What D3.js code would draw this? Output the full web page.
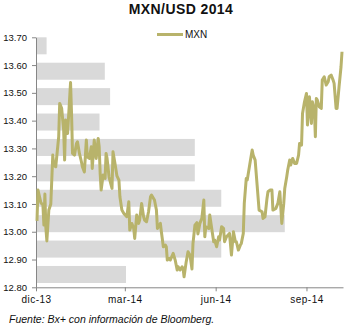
<!DOCTYPE html>
<html>
<head>
<meta charset="utf-8">
<script src="https://cdn.jsdelivr.net/npm/d3@7"></script>
<style>
  body { margin: 0; background: #fff; }
  svg { font-family: "Liberation Sans", Arial, sans-serif; }
</style>
</head>
<body>
<div id="chart"></div>
<script>
// MXN/USD 2014 - tipo de cambio diario + barras de frecuencia por rango

const title = "MXN/USD 2014";
const seriesName = "MXN";
const source = "Fuente: Bx+ con información de Bloomberg.";

// tick labels
const yTicks = [12.8, 12.9, 13.0, 13.1, 13.2, 13.3, 13.4, 13.5, 13.6, 13.7];
const xTickDates = ["2013-12-01", "2014-03-01", "2014-06-01", "2014-09-01"];
const xTickLabels = ["dic-13", "mar-14", "jun-14", "sep-14"];

// barras de fondo (de arriba hacia abajo)
const bins = ["13.61-13.70", "13.52-13.61", "13.43-13.52", "13.34-13.43", "13.25-13.34",
              "13.16-13.25", "13.07-13.16", "12.98-13.07", "12.89-12.98", "12.80-12.89"];
const binCounts = [2, 13, 14, 12, 30, 30, 35, 47, 35, 17];

// serie MXN
const dates = [
  "2013-12-02","2013-12-03","2013-12-06","2013-12-08","2013-12-09","2013-12-10","2013-12-11","2013-12-12","2013-12-14","2013-12-16",
  "2013-12-18","2013-12-19","2013-12-21","2013-12-24","2013-12-25","2013-12-27","2013-12-29","2013-12-30","2013-12-31","2014-01-01",
  "2014-01-02","2014-01-03","2014-01-05","2014-01-06","2014-01-07","2014-01-09","2014-01-11","2014-01-12","2014-01-14","2014-01-16",
  "2014-01-17","2014-01-19","2014-01-21","2014-01-22","2014-01-24","2014-01-26","2014-01-27","2014-01-29","2014-01-31","2014-02-02",
  "2014-02-03","2014-02-04","2014-02-05","2014-02-07","2014-02-09","2014-02-10","2014-02-11","2014-02-13","2014-02-16","2014-02-17",
  "2014-02-19","2014-02-21","2014-02-23","2014-02-24","2014-02-26","2014-02-28","2014-03-03","2014-03-05","2014-03-06","2014-03-08",
  "2014-03-10","2014-03-11","2014-03-13","2014-03-15","2014-03-16","2014-03-18","2014-03-20","2014-03-21","2014-03-23","2014-03-25",
  "2014-03-27","2014-03-28","2014-03-31","2014-04-02","2014-04-03","2014-04-06","2014-04-07","2014-04-09","2014-04-11","2014-04-12",
  "2014-04-13","2014-04-15","2014-04-16","2014-04-19","2014-04-21","2014-04-23","2014-04-24","2014-04-26","2014-04-28","2014-04-29",
  "2014-04-30","2014-05-02","2014-05-04","2014-05-06","2014-05-08","2014-05-09","2014-05-11","2014-05-13","2014-05-14","2014-05-16",
  "2014-05-18","2014-05-20","2014-05-21","2014-05-22","2014-05-25","2014-05-26","2014-05-28","2014-05-30","2014-05-31","2014-06-02",
  "2014-06-04","2014-06-05","2014-06-07","2014-06-09","2014-06-10","2014-06-12","2014-06-15","2014-06-17","2014-06-19","2014-06-21",
  "2014-06-22","2014-06-24","2014-06-26","2014-06-27","2014-06-29","2014-06-30","2014-07-02","2014-07-03","2014-07-06","2014-07-08",
  "2014-07-09","2014-07-11","2014-07-13","2014-07-15","2014-07-18","2014-07-19","2014-07-21","2014-07-23","2014-07-24","2014-07-26",
  "2014-07-28","2014-07-29","2014-08-01","2014-08-03","2014-08-05","2014-08-07","2014-08-09","2014-08-10","2014-08-12","2014-08-13",
  "2014-08-15","2014-08-16","2014-08-18","2014-08-20","2014-08-22","2014-08-24","2014-08-25","2014-08-27","2014-08-28","2014-08-30",
  "2014-09-01","2014-09-02","2014-09-04","2014-09-06","2014-09-07","2014-09-09","2014-09-10","2014-09-11","2014-09-12","2014-09-14",
  "2014-09-16","2014-09-17","2014-09-19","2014-09-21","2014-09-23","2014-09-24","2014-09-26","2014-09-28","2014-09-29","2014-10-01",
  "2014-10-02","2014-10-04","2014-10-06","2014-10-07"
];
const mxn = [
  13.039,13.150,13.104,13.096,13.024,13.136,13.014,12.967,13.078,13.100,
  13.276,13.240,13.234,13.342,13.462,13.444,13.366,13.258,13.402,13.390,
  13.354,13.414,13.537,13.426,13.282,13.276,13.318,13.324,13.282,13.252,
  13.234,13.215,13.330,13.270,13.264,13.306,13.228,13.330,13.264,13.336,
  13.306,13.210,13.150,13.204,13.192,13.282,13.264,13.197,13.156,13.288,
  13.246,13.201,13.186,13.126,13.078,13.066,13.054,13.108,13.006,13.030,
  13.012,12.976,13.060,13.030,13.042,13.102,13.054,13.042,13.036,13.072,
  13.126,13.132,13.114,13.078,13.012,13.030,13.000,12.946,12.952,12.946,
  12.898,12.904,12.898,12.922,12.898,12.862,12.874,12.862,12.874,12.868,
  12.838,12.888,12.928,12.916,12.866,12.956,13.024,13.033,12.992,13.030,
  13.048,13.114,12.982,13.018,13.012,13.060,13.012,12.964,12.970,12.946,
  12.982,12.970,13.018,13.012,12.964,12.982,12.994,12.916,13.000,12.964,
  12.964,12.934,12.952,12.958,12.994,13.102,13.192,13.186,13.252,13.294,
  13.276,13.258,13.168,13.078,13.072,13.048,13.054,13.120,13.144,13.150,
  13.150,13.078,13.084,13.102,13.144,13.030,13.102,13.156,13.198,13.222,
  13.258,13.240,13.264,13.246,13.246,13.276,13.318,13.312,13.426,13.468,
  13.498,13.384,13.486,13.390,13.468,13.438,13.342,13.480,13.474,13.450,
  13.444,13.546,13.558,13.528,13.540,13.558,13.564,13.546,13.534,13.444,
  13.444,13.522,13.594,13.648
];

const width = 348, height = 332;
const plotLeft = 36, plotRight = 343, plotTop = 37.3, plotBottom = 287.3;
const lineColor = "#b8b36b";
const parse = d3.timeParse("%Y-%m-%d");

const svg = d3.select("#chart").append("svg")
  .attr("width", width)
  .attr("height", height);

const x = d3.scaleTime()
  .domain([parse("2013-12-01"), parse("2014-10-08")])
  .range([plotLeft, plotRight]);

const y = d3.scaleLinear()
  .domain([12.8, 13.7])
  .range([plotBottom, plotTop]);

// escalas de las barras (eje secundario oculto)
const band = d3.scaleBand()
  .domain(bins)
  .range([plotTop, 283])
  .paddingInner(0.33)
  .paddingOuter(0);

const xBar = d3.scaleLinear()
  .domain([0, 58])
  .range([plotLeft, plotRight]);

svg.append("g")
  .selectAll("rect")
  .data(bins)
  .join("rect")
  .attr("x", xBar(0))
  .attr("y", d => band(d))
  .attr("width", (d, i) => xBar(binCounts[i]) - xBar(0))
  .attr("height", band.bandwidth())
  .attr("fill", "#d9d9d9");

// ejes
const yAxis = svg.append("g")
  .attr("transform", `translate(${plotLeft},0)`)
  .call(d3.axisLeft(y).tickValues(yTicks).tickFormat(d3.format(".2f"))
    .tickSize(4).tickSizeOuter(0).tickPadding(5));

const xAxis = svg.append("g")
  .attr("transform", `translate(0,${plotBottom})`)
  .call(d3.axisBottom(x).tickValues(xTickDates.map(parse))
    .tickFormat((d, i) => xTickLabels[i])
    .tickSize(4).tickSizeOuter(0).tickPadding(5));

[yAxis, xAxis].forEach(g => {
  g.select(".domain").attr("stroke", "#868686");
  g.selectAll(".tick line").attr("stroke", "#868686");
  g.selectAll(".tick text")
    .attr("fill", "#111")
    .style("font-family", "'Liberation Sans', Arial, sans-serif");
});
yAxis.selectAll(".tick text").style("font-size", "9.5px");
xAxis.selectAll(".tick text").style("font-size", "10px").style("letter-spacing", "0.5px");

// serie
const line = d3.line()
  .x((d, i) => x(parse(dates[i])))
  .y(d => y(d));

svg.append("path")
  .datum(mxn)
  .attr("d", line)
  .attr("fill", "none")
  .attr("stroke", lineColor)
  .attr("stroke-width", 3)
  .attr("stroke-linejoin", "round");

// titulo
svg.append("text")
  .attr("x", 181)
  .attr("y", 13.5)
  .attr("text-anchor", "middle")
  .style("font-size", "14px")
  .style("font-weight", "bold")
  .style("letter-spacing", "0.4px")
  .attr("fill", "#111")
  .text(title);

// leyenda
svg.append("line")
  .attr("x1", 157).attr("x2", 183)
  .attr("y1", 34.5).attr("y2", 34.5)
  .attr("stroke", lineColor)
  .attr("stroke-width", 3);

svg.append("text")
  .attr("x", 185)
  .attr("y", 38)
  .style("font-size", "10px")
  .attr("fill", "#111")
  .text(seriesName);

// fuente
svg.append("text")
  .attr("x", 9)
  .attr("y", 323)
  .style("font-size", "10.5px")
  .style("font-style", "italic")
  .attr("fill", "#111")
  .text(source);
</script>
</body>
</html>
